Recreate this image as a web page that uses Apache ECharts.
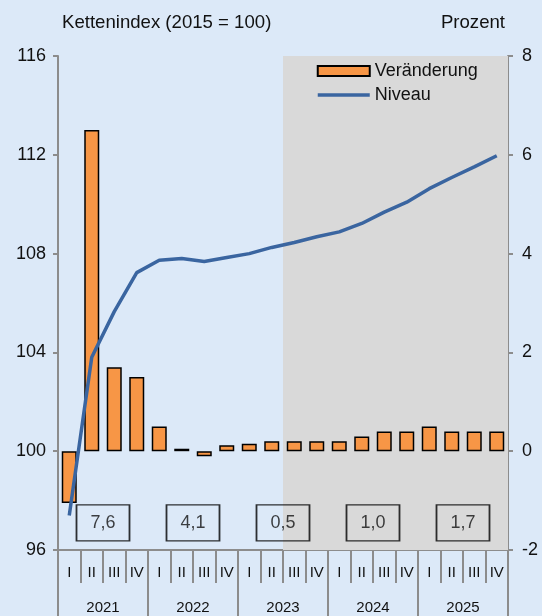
<!DOCTYPE html>
<html>
<head>
<meta charset="utf-8">
<script src="https://cdn.jsdelivr.net/npm/echarts@6/dist/echarts.min.js"></script>
<style>
html,body{margin:0;padding:0;background:#dce9f8;}
#c{width:542px;height:616px;}
</style>
</head>
<body>
<div id="c"></div>
<script>
// ---- data ----
var quarters = ['I','II','III','IV','I','II','III','IV','I','II','III','IV','I','II','III','IV','I','II','III','IV'];
var years = ['2021','2022','2023','2024','2025'];
var veraenderung = [-1.05, 6.5, 1.7, 1.5, 0.5, 0.05, -0.1, 0.12, 0.15, 0.2, 0.2, 0.2, 0.2, 0.3, 0.4, 0.4, 0.5, 0.4, 0.4, 0.4];
var niveau = [97.4, 103.8, 105.65, 107.23, 107.73, 107.8, 107.68, 107.84, 108.0, 108.25, 108.45, 108.68, 108.88, 109.22, 109.68, 110.08, 110.63, 111.08, 111.51, 111.96];
var jahresWachstum = ['7,6', '4,1', '0,5', '1,0', '1,7'];
var leftTicks = [96, 116, 4];
var rightTicks = [-2, 8, 2];
var forecastStart = 10; // first forecast quarter index (2023 III)

var FONT = 'Liberation Sans, Arial, sans-serif';
var AX = '#8c8c8c';
var BLUE = '#3a65a0';
var chart = echarts.init(document.getElementById('c'));
var boxLevel = 97.1;

chart.setOption({
  backgroundColor: '#dce9f8',
  animation: false,
  textStyle: {fontFamily: FONT},
  graphic: [
    {type: 'text', left: 62, top: 13, style: {text: 'Kettenindex (2015 = 100)', font: '18.6px ' + FONT, fill: '#111'}},
    {type: 'text', right: 37, top: 13, style: {text: 'Prozent', font: '18.6px ' + FONT, fill: '#111'}}
  ],
  legend: {
    orient: 'vertical', left: 311, top: 57,
    itemWidth: 52, itemHeight: 10, itemGap: 6,
    textStyle: {fontSize: 18, color: '#111', fontFamily: FONT},
    data: [
      {name: 'Veränderung', icon: 'rect'},
      {name: 'Niveau', itemStyle: {opacity: 0}, lineStyle: {width: 3.5, color: BLUE}}
    ]
  },
  grid: {left: 58, right: 34, top: 56, bottom: 66},
  xAxis: [
    {
      type: 'category', data: quarters, position: 'bottom',
      axisLine: {onZero: false, lineStyle: {color: AX, width: 2}},
      axisTick: {show: true, interval: 0, length: 33, lineStyle: {color: AX, width: 2}},
      axisLabel: {interval: 0, margin: 15, fontSize: 15, color: '#111', fontFamily: FONT}
    },
    {
      type: 'category', data: years, position: 'bottom',
      axisLine: {show: false, onZero: false},
      axisTick: {show: true, interval: 0, length: 66, lineStyle: {color: AX, width: 2}},
      axisLabel: {interval: 0, margin: 50, fontSize: 15, color: '#111', fontFamily: FONT}
    },
    {
      type: 'value', min: 0, max: quarters.length, show: false
    }
  ],
  yAxis: [
    {
      type: 'value', position: 'left', min: leftTicks[0], max: leftTicks[1], interval: leftTicks[2],
      splitLine: {show: false},
      axisLine: {show: true, onZero: false, lineStyle: {color: AX, width: 2}},
      axisTick: {show: true, length: 5, lineStyle: {color: AX, width: 2}},
      axisLabel: {margin: 12, fontSize: 18, color: '#111', fontFamily: FONT}
    },
    {
      type: 'value', position: 'right', min: rightTicks[0], max: rightTicks[1], interval: rightTicks[2],
      splitLine: {show: false},
      axisLine: {show: true, onZero: false, lineStyle: {color: AX, width: 2}},
      axisTick: {show: true, length: 5, lineStyle: {color: AX, width: 2}},
      axisLabel: {margin: 14, fontSize: 18, color: '#111', fontFamily: FONT}
    }
  ],
  series: [
    {
      name: 'forecast', type: 'line', xAxisIndex: 2, yAxisIndex: 0, data: [], z: 0,
      silent: true,
      markArea: {
        silent: true,
        itemStyle: {color: '#d9d9d9'},
        data: [[{xAxis: forecastStart}, {xAxis: quarters.length}]]
      }
    },
    {
      name: 'Veränderung', type: 'bar', xAxisIndex: 0, yAxisIndex: 1,
      data: veraenderung, barWidth: 15, z: 2,
      itemStyle: {color: '#f79646', borderColor: '#000', borderWidth: 1.5}
    },
    {
      name: 'Niveau', type: 'line', xAxisIndex: 0, yAxisIndex: 0,
      data: niveau, symbol: 'none', z: 3,
      itemStyle: {color: BLUE},
      lineStyle: {color: BLUE, width: 3.5}
    },
    {
      name: 'Jahr', type: 'scatter', xAxisIndex: 1, yAxisIndex: 0, z: 4,
      symbol: 'rect', symbolSize: [53, 36],
      itemStyle: {color: 'rgba(0,0,0,0)', borderColor: '#000', borderWidth: 1.5},
      label: {show: true, position: 'inside', fontSize: 18, color: '#111', fontFamily: FONT,
        formatter: function (p) { return jahresWachstum[p.dataIndex]; }},
      data: years.map(function (y, i) { return [i, boxLevel]; })
    }
  ]
});
</script>
</body>
</html>
